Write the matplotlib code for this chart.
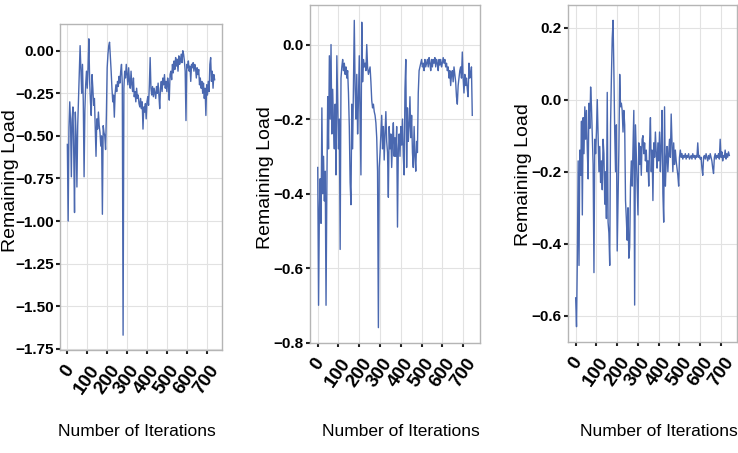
# Remaining load vs. iteration, three runs side by side
import numpy as np
import matplotlib
matplotlib.use('Agg')
import matplotlib.pyplot as plt
from matplotlib.ticker import MultipleLocator

plt.rcParams['font.family'] = ['Liberation Sans', 'DejaVu Sans']

# one sample every 4 iterations
ITER_STEP = 4

load_a = [
    -0.55, -1.00, -0.45, -0.30, -0.42, -0.74, -0.40, -0.33, -0.60, -0.95,
    -0.36, -0.50, -0.80, -0.44, -0.28, -0.10, 0.03, -0.12, -0.25, -0.08,
    -0.30, -0.74, -0.35, -0.20, -0.12, -0.22, -0.10, 0.07, -0.18, -0.30,
    -0.38, -0.14, -0.22, -0.32, -0.28, -0.45, -0.62, -0.40, -0.46, -0.36,
    -0.44, -0.48, -0.56, -0.50, -0.96, -0.44, -0.48, -0.50, -0.58, -0.38,
    -0.10, -0.02, 0.03, 0.05, -0.03, -0.12, -0.22, -0.30, -0.26, -0.39,
    -0.25, -0.20, -0.24, -0.18, -0.21, -0.15, -0.19, -0.12, -0.08, -0.20,
    -1.67, -0.22, -0.12, -0.16, -0.08, -0.14, -0.20, -0.10, -0.18, -0.22,
    -0.12, -0.20, -0.24, -0.16, -0.27, -0.24, -0.30, -0.22, -0.28, -0.26,
    -0.31, -0.33, -0.28, -0.34, -0.30, -0.46, -0.33, -0.36, -0.31, -0.40,
    -0.30, -0.27, -0.32, -0.20, -0.04, -0.22, -0.26, -0.21, -0.27, -0.22,
    -0.25, -0.28, -0.21, -0.25, -0.19, -0.26, -0.34, -0.22, -0.18, -0.24,
    -0.16, -0.20, -0.14, -0.22, -0.18, -0.24, -0.16, -0.20, -0.29, -0.14,
    -0.12, -0.17, -0.08, -0.13, -0.06, -0.11, -0.04, -0.09, -0.05, -0.12,
    -0.03, -0.08, -0.06, -0.02, -0.07, 0.00, -0.02, -0.06, -0.12, -0.41,
    -0.08, -0.10, -0.06, -0.12, -0.09, -0.18, -0.08, -0.10, -0.07, -0.12,
    -0.08, -0.10, -0.16, -0.10, -0.14, -0.11, -0.20, -0.16, -0.22, -0.18,
    -0.25, -0.19, -0.28, -0.22, -0.38, -0.20, -0.26, -0.18, -0.24, -0.08,
    -0.04, -0.18, -0.12, -0.22, -0.14, -0.17,
]

load_b = [
    -0.33, -0.70, -0.44, -0.36, -0.48, -0.17, -0.40, -0.30, -0.42, -0.34,
    -0.70, -0.38, -0.14, -0.28, -0.03, -0.20, 0.00, -0.24, -0.12, -0.22,
    -0.28, -0.16, -0.35, -0.03, -0.15, -0.28, -0.20, -0.55, -0.09, -0.06,
    -0.04, -0.07, -0.05, -0.08, -0.06, -0.09, -0.07, -0.13, -0.22, -0.37,
    -0.43, -0.16, -0.28, -0.10, 0.065, -0.12, -0.20, -0.08, -0.24, -0.15,
    -0.03, -0.18, -0.35, 0.06, -0.10, -0.04, -0.06, -0.05, -0.07, 0.00,
    -0.06, -0.08, -0.07, -0.06, -0.10, -0.15, -0.17, -0.16, -0.18, -0.19,
    -0.21, -0.25, -0.34, -0.76, -0.33, -0.29, -0.24, -0.19, -0.28, -0.22,
    -0.31, -0.24, -0.18, -0.26, -0.29, -0.41, -0.22, -0.28, -0.24, -0.33,
    -0.26, -0.21, -0.30, -0.25, -0.30, -0.22, -0.49, -0.28, -0.24, -0.30,
    -0.22, -0.27, -0.20, -0.30, -0.35, -0.12, -0.04, -0.33, -0.17, -0.26,
    -0.22, -0.14, -0.25, -0.19, -0.29, -0.33, -0.22, -0.30, -0.34, -0.26,
    -0.29, -0.13, -0.07, -0.06, -0.05, -0.04, -0.06, -0.05, -0.07, -0.04,
    -0.06, -0.05, -0.04, -0.06, -0.035, -0.05, -0.07, -0.04, -0.06, -0.04,
    -0.05, -0.035, -0.06, -0.04, -0.05, -0.07, -0.04, -0.055, -0.04, -0.06,
    -0.05, -0.035, -0.05, -0.04, -0.06, -0.05, -0.07, -0.06, -0.09, -0.07,
    -0.11, -0.08, -0.07, -0.10, -0.06, -0.08, -0.10, -0.14, -0.16, -0.11,
    -0.09, -0.07, -0.06, -0.09, -0.02, -0.09, -0.13, -0.08, -0.11, -0.09,
    -0.12, -0.14, -0.05, -0.09, -0.08, -0.06, -0.19,
]

load_c = [
    -0.55, -0.63, -0.44, -0.17, -0.46, -0.14, -0.21, -0.06, -0.32, -0.05,
    -0.15, -0.02, -0.11, -0.03, -0.14, -0.22, -0.01, -0.08, 0.035, -0.02,
    -0.10, -0.18, -0.48, -0.11, -0.15, -0.09, 0.00, -0.10, -0.20, -0.13,
    -0.23, -0.17, -0.25, -0.11, -0.15, -0.29, -0.20, -0.33, 0.02, -0.34,
    -0.37, -0.46, -0.07, 0.06, 0.17, 0.22, 0.08, -0.09, -0.20, -0.07,
    -0.42, -0.27, -0.14, 0.07, -0.02, -0.01, -0.03, -0.09, -0.03, -0.07,
    -0.28, -0.33, -0.39, -0.30, -0.44, -0.41, -0.24, -0.17, -0.24, -0.13,
    -0.03, -0.57, -0.07, -0.15, -0.23, -0.32, -0.12, -0.18, -0.13, -0.21,
    -0.11, -0.10, -0.15, -0.12, -0.17, -0.14, -0.20, -0.17, -0.24, -0.12,
    -0.05, -0.20, -0.14, -0.28, -0.12, -0.16, -0.09, -0.15, -0.19, -0.12,
    -0.17, -0.09, -0.20, -0.13, -0.03, -0.26, -0.34, -0.02, -0.24, -0.17,
    -0.13, -0.20, -0.15, -0.11, -0.16, -0.04, -0.12, -0.20, -0.12, -0.18,
    -0.14, -0.17, -0.19, -0.21, -0.24, -0.16, -0.14, -0.16, -0.15, -0.165,
    -0.155, -0.16, -0.15, -0.165, -0.155, -0.16, -0.15, -0.165, -0.16, -0.155,
    -0.165, -0.15, -0.16, -0.155, -0.165, -0.155, -0.16, -0.12, -0.16, -0.155,
    -0.165, -0.16, -0.19, -0.21, -0.16, -0.155, -0.165, -0.15, -0.16, -0.17,
    -0.155, -0.165, -0.15, -0.16, -0.17, -0.19, -0.205, -0.16, -0.15, -0.165,
    -0.155, -0.16, -0.15, -0.165, -0.11, -0.16, -0.145, -0.17, -0.155, -0.16,
    -0.14, -0.165, -0.15, -0.16, -0.145, -0.155,
]

x_ticks = [0, 100, 200, 300, 400, 500, 600, 700]
y_label = 'Remaining Load'
x_label = 'Number of Iterations'

LINE = '#4a68b0'
W, H = 738, 453

# pixel boxes (left, top, right, bottom) and label centres, measured on the reference
panels = [
    dict(data=load_a, box=(60, 24, 222, 350), ystep=0.25, ylab=(10, 181), xlab=137),
    dict(data=load_b, box=(310, 5, 480, 343), ystep=0.2, ylab=(265, 178), xlab=401),
    dict(data=load_c, box=(568, 5, 737, 342), ystep=0.2, ylab=(523, 175), xlab=659),
]
XLAB_Y = 432

fig = plt.figure(figsize=(W / 100, H / 100), dpi=100)
for p in panels:
    l, t, r, b = p['box']
    ax = fig.add_axes([l / W, (H - b) / H, (r - l) / W, (b - t) / H])
    x = np.arange(len(p['data'])) * ITER_STEP
    ax.plot(x, p['data'], color=LINE, lw=1.0)

    ax.set_xticks(x_ticks)
    ax.yaxis.set_major_locator(MultipleLocator(p['ystep']))
    ax.grid(True, color='#e2e2e2', lw=0.8)
    ax.set_axisbelow(True)
    for s in ax.spines.values():
        s.set_color('#b5b5b5')
        s.set_linewidth(1.0)
    ax.tick_params(axis='both', color='#222222', length=3, width=1.5)
    ax.tick_params(axis='y', pad=1.5, labelsize=11)
    ax.tick_params(axis='x', pad=6, labelsize=13.5, labelrotation=55)
    plt.setp(ax.get_xticklabels() + ax.get_yticklabels(), fontweight='bold')

    ax.set_ylabel(y_label, fontsize=14)
    ax.yaxis.label.set(ha='center', va='center')
    ax.yaxis.set_label_coords((p['ylab'][0] - l) / (r - l), (b - p['ylab'][1]) / (b - t))
    ax.set_xlabel(x_label, fontsize=12.5)
    ax.xaxis.label.set_va('center')
    ax.xaxis.set_label_coords((p['xlab'] - l) / (r - l), (b - XLAB_Y) / (b - t))

fig.savefig('out.png', dpi=100)
